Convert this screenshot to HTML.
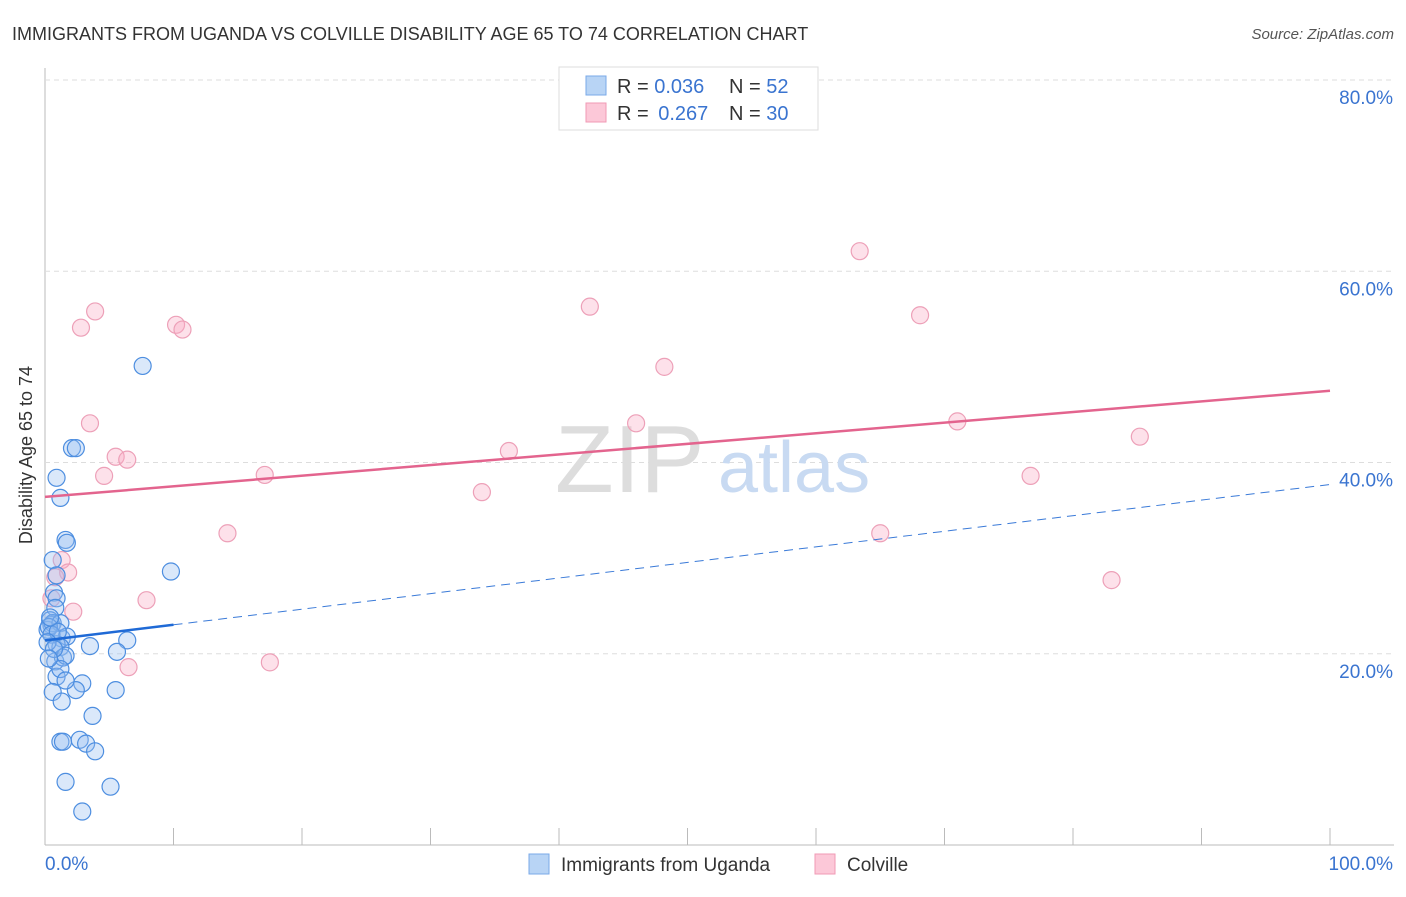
<!DOCTYPE html>
<html><head><meta charset="utf-8"><style>
body{margin:0;background:#fff;font-family:"Liberation Sans",sans-serif;}
svg text{font-family:"Liberation Sans",sans-serif;}
</style></head><body>
<svg id="chart" width="1406" height="892" xmlns="http://www.w3.org/2000/svg">
<text x="12" y="40" font-size="18" fill="#333">IMMIGRANTS FROM UGANDA VS COLVILLE DISABILITY AGE 65 TO 74 CORRELATION CHART</text>
<text x="1394" y="39" font-size="15" fill="#555" font-style="italic" text-anchor="end">Source: ZipAtlas.com</text>
<text x="32" y="455" font-size="18" fill="#333" text-anchor="middle" transform="rotate(-90 32 455)">Disability Age 65 to 74</text>
<g id="grid"></g>
<text x="555" y="492" font-size="96" fill="#ddd" font-family="Liberation Serif">ZIP</text>
<text x="718" y="492" font-size="72" fill="#c8daf2">atlas</text>
<g id="points"></g>
<g id="lines"></g>
<g>
<rect x="559" y="67" width="259" height="63" fill="#fff" stroke="#ddd"/>
<rect x="586" y="76" width="20" height="19" fill="#b8d4f5" stroke="#7aaae8"/>
<rect x="586" y="103" width="20" height="19" fill="#fcc8d8" stroke="#f09ab5"/>
<text x="617" y="93" font-size="20" fill="#333">R = <tspan fill="#3a74d0">0.036</tspan><tspan x="729">N = </tspan><tspan fill="#3a74d0">52</tspan></text>
<text x="617" y="120" font-size="20" fill="#333">R = <tspan fill="#3a74d0" dx="4">0.267</tspan><tspan x="729">N = </tspan><tspan fill="#3a74d0">30</tspan></text>
</g>
<g>
<rect x="529" y="854" width="20" height="20" fill="#b8d4f5" stroke="#7aaae8"/>
<text x="561" y="871" font-size="19" fill="#333">Immigrants from Uganda</text>
<rect x="815" y="854" width="20" height="20" fill="#fcc8d8" stroke="#f09ab5"/>
<text x="847" y="871" font-size="19" fill="#333">Colville</text>
</g>
</svg>
<script>
const yTicks=[20,40,60,80];
const yTickLabels=["20.0%","40.0%","60.0%","80.0%"];
const xTickLabels=["0.0%","100.0%"];
const ugandaX=[7.6,2.1,2.4,0.9,1.2,1.6,1.7,0.6,0.9,9.8,0.7,0.9,0.8,0.4,0.5,0.2,0.6,1.2,1.3,1.7,3.5,6.4,5.6,0.9,1.2,0.8,1.4,1.6,0.9,1.2,2.9,2.4,1.6,0.6,1.3,5.5,3.7,1.2,1.4,2.7,3.2,3.9,1.6,5.1,2.9,0.3,0.5,1.0,0.2,0.4,0.7,0.3];
const ugandaY=[50.1,41.5,41.5,38.4,36.3,31.9,31.6,29.8,28.2,28.6,26.4,25.8,24.8,23.5,23.0,22.5,23.2,23.2,21.6,21.8,20.8,21.4,20.2,21.0,20.7,19.2,19.6,19.8,17.6,18.4,16.9,16.2,17.2,16.0,15.0,16.2,13.5,10.8,10.8,11.0,10.6,9.8,6.6,6.1,3.5,22.8,22.0,22.3,21.2,23.8,20.5,19.5];
const colvilleX=[3.9,2.8,10.2,10.7,42.4,63.4,68.1,48.2,3.5,46.0,71.0,5.5,6.4,4.6,17.1,36.1,85.2,34.0,76.7,14.2,65.0,1.3,1.8,0.8,7.9,2.2,83.0,17.5,6.5,0.5];
const colvilleY=[55.8,54.1,54.4,53.9,56.3,62.1,55.4,50.0,44.1,44.1,44.3,40.6,40.3,38.6,38.7,41.2,42.7,36.9,38.6,32.6,32.6,29.8,28.5,28.0,25.6,24.4,27.7,19.1,18.6,25.8];
const ugandaTrend=[21.4,37.7];
const ugandaSolidEnd=10;
const colvilleTrend=[36.4,47.5];
const NS='http://www.w3.org/2000/svg';
const X0=45,X1=1330,Y0=845,Y1=80;
function sx(v){return X0+(X1-X0)*v/100;}
function sy(v){return Y0-(Y0-Y1)*v/80;}
function mk(t,a,p){const e=document.createElementNS(NS,t);for(const k in a)e.setAttribute(k,a[k]);p.appendChild(e);return e;}
const grid=document.getElementById('grid');
let ax=mk('line',{x1:X0,y1:68,x2:X0,y2:Y0,stroke:'#bbb'},grid);


let bx=mk('line',{x1:X0,y1:Y0,x2:1394,y2:Y0,stroke:'#bbb'},grid);


yTicks.forEach((t,i)=>{
 const g=mk('line',{x1:X0,y1:sy(t),x2:1394,y2:sy(t),stroke:'#ddd','stroke-dasharray':'5,4'},grid);
 
 
 const l=mk('text',{x:1393,y:sy(t)+24,'font-size':19,fill:'#3a74d0','text-anchor':'end'},grid);
 l.textContent=yTickLabels[i];
 
 
});
for(let i=0;i<=10;i++){
 const tk=mk('line',{x1:sx(i*10),y1:828,x2:sx(i*10),y2:Y0,stroke:'#bbb'},grid);
 
 
}
const xl0=mk('text',{x:45,y:870,'font-size':19,fill:'#3a74d0'},grid);
xl0.textContent=xTickLabels[0];


const xl1=mk('text',{x:1393,y:870,'font-size':19,fill:'#3a74d0','text-anchor':'end'},grid);
xl1.textContent=xTickLabels[1];


const pts=document.getElementById('points');
colvilleX.forEach((x,i)=>{
 const c=mk('circle',{cx:sx(x),cy:sy(colvilleY[i]),r:8.5,fill:'rgba(248,170,195,0.35)',stroke:'#eda0b8','stroke-width':1.2},pts);
 
 
});
ugandaX.forEach((x,i)=>{
 const c=mk('circle',{cx:sx(x),cy:sy(ugandaY[i]),r:8.5,fill:'rgba(150,190,240,0.35)',stroke:'#4d8ee0','stroke-width':1.2},pts);
 
 
});
const ln=document.getElementById('lines');
const pl=mk('line',{x1:sx(0),y1:sy(colvilleTrend[0]),x2:sx(100),y2:sy(colvilleTrend[1]),stroke:'#e3648e','stroke-width':2.5},ln);


const ym=ugandaTrend[0]+(ugandaTrend[1]-ugandaTrend[0])*ugandaSolidEnd/100;
const bd=mk('line',{x1:sx(ugandaSolidEnd),y1:sy(ym),x2:sx(100),y2:sy(ugandaTrend[1]),stroke:'#3a7ad8','stroke-width':1,'stroke-dasharray':'9,6'},ln);


const bs=mk('line',{x1:sx(0),y1:sy(ugandaTrend[0]),x2:sx(ugandaSolidEnd),y2:sy(ym),stroke:'#1f6ad6','stroke-width':2.5},ln);


</script>
</body></html>
